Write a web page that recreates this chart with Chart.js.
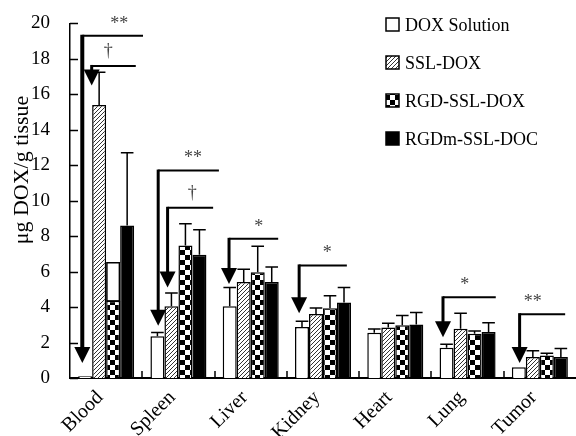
<!DOCTYPE html>
<html lang="en">
<head>
<meta charset="UTF-8">
<title>DOX tissue distribution</title>
<script src="https://cdn.jsdelivr.net/npm/chart.js@4.4.0/dist/chart.umd.min.js"></script>
<style>
  html, body { margin: 0; padding: 0; background: #fff; }
  #wrap { width: 576px; height: 436px; }
</style>
</head>
<body>
<div id="wrap"><canvas id="chart" width="576" height="436"></canvas></div>
<script>
// ---- data ----
const categories = ['Blood', 'Spleen', 'Liver', 'Kidney', 'Heart', 'Lung', 'Tumor'];
const seriesNames = ['DOX Solution', 'SSL-DOX', 'RGD-SSL-DOX', 'RGDm-SSL-DOC'];
const doxSolution    = [0.1, 2.35, 4.05, 2.87, 2.55, 1.71, 0.6];
const doxSolutionErr = [0, 0.22, 1.05, 0.33, 0.22, 0.19, 0];
const sslDox         = [15.4, 4.05, 5.42, 3.61, 2.85, 2.78, 1.19];
const sslDoxErr      = [1.85, 0.75, 0.71, 0.34, 0.24, 0.87, 0.34];
const rgdSslDox      = [4.35, 7.47, 5.96, 3.93, 2.98, 2.5, 1.27];
const rgdSslDoxErr   = [2.15, 1.23, 1.47, 0.71, 0.54, 0.15, 0.13];
const rgdmSslDoc     = [8.6, 6.95, 5.42, 4.26, 3.02, 2.59, 1.19];
const rgdmSslDocErr  = [4.1, 1.41, 0.84, 0.84, 0.68, 0.52, 0.47];
const yTicks = [0, 2, 4, 6, 8, 10, 12, 14, 16, 18, 20];

// significance brackets: mark, category, bracket level, arrow tip value
const sigMarks    = ['**', '\u2020', '**', '\u2020', '*', '*', '*', '**'];
const sigCategory = [0, 0, 1, 1, 2, 3, 5, 6];
const sigLevel    = [19.3, 17.6, 11.7, 9.6, 7.85, 6.35, 4.55, 3.6];
const sigTip      = [0.85, 16.5, 2.95, 5.1, 5.3, 3.65, 2.3, 0.85];

// the Blood RGD-SSL-DOX error is drawn as an open box in the original
const boxedErrors = [[2, 0]];

// layout of the brackets, in fractions of a category width
const sigStart = [-0.33, -0.2, -0.28, -0.15, -0.3, -0.33, -0.34, -0.28];
const sigEnd   = [0.51, 0.41, 0.56, 0.48, 0.38, 0.33, 0.39, 0.35];
const sigText  = [0.18, 0.03, 0.2, 0.19, 0.11, 0.06, -0.04, -0.1];

const FONT = '"Liberation Serif", "Times New Roman", serif';
const canvas = document.getElementById('chart');
const ctx = canvas.getContext('2d');

function makeHatch() {
    const c = document.createElement('canvas');
    c.width = 4; c.height = 4;
    const g = c.getContext('2d');
    g.fillStyle = '#fff'; g.fillRect(0, 0, 4, 4);
    g.strokeStyle = '#333'; g.lineWidth = 1;
    g.beginPath();
    g.moveTo(0, 4); g.lineTo(4, 0);
    g.moveTo(-1, 1); g.lineTo(1, -1);
    g.moveTo(3, 5); g.lineTo(5, 3);
    g.stroke();
    return ctx.createPattern(c, 'repeat');
}
function makeChecker() {
    const c = document.createElement('canvas');
    c.width = 10; c.height = 10;
    const g = c.getContext('2d');
    g.fillStyle = '#fff'; g.fillRect(0, 0, 10, 10);
    g.fillStyle = '#000';
    g.fillRect(0, 0, 5, 5); g.fillRect(5, 5, 5, 5);
    return ctx.createPattern(c, 'repeat');
}
const fills = ['#ffffff', makeHatch(), makeChecker(), '#000000'];
const seriesValues = [doxSolution, sslDox, rgdSslDox, rgdmSslDoc];
const seriesErrors = [doxSolutionErr, sslDoxErr, rgdSslDoxErr, rgdmSslDocErr];

const overlay = {
    id: 'overlay',
    afterDatasetsDraw(chart) {
        const c = chart.ctx;
        const xs = chart.scales.x, ys = chart.scales.y;
        const area = chart.chartArea;
        const catW = xs.getPixelForValue(1) - xs.getPixelForValue(0);
        c.save();

        // error bars (upper whisker only)
        seriesErrors.forEach((errs, di) => {
            const meta = chart.getDatasetMeta(di);
            meta.data.forEach((bar, i) => {
                const e = errs[i];
                if (!e) return;
                const top = ys.getPixelForValue(seriesValues[di][i] + e);
                const boxed = boxedErrors.some(b => b[0] === di && b[1] === i);
                c.strokeStyle = '#000';
                c.lineWidth = 1.5;
                if (boxed) {
                    c.fillStyle = '#fff';
                    c.fillRect(bar.x - bar.width / 2, top, bar.width, bar.y - top);
                    c.strokeRect(bar.x - bar.width / 2 + 0.75, top, bar.width - 1.5, bar.y - top);
                    return;
                }
                const half = bar.width * 0.45;
                c.beginPath();
                c.moveTo(bar.x, bar.y);
                c.lineTo(bar.x, top);
                c.moveTo(bar.x - half, top);
                c.lineTo(bar.x + half, top);
                c.stroke();
            });
        });

        // significance arrows and brackets
        sigMarks.forEach((mark, k) => {
            const cx = xs.getPixelForValue(sigCategory[k]);
            const x0 = cx + sigStart[k] * catW;
            const x1 = cx + sigEnd[k] * catW;
            const yl = ys.getPixelForValue(sigLevel[k]);
            const yt = ys.getPixelForValue(sigTip[k]);
            const head = 16;
            c.strokeStyle = '#000';
            c.fillStyle = '#000';
            c.lineWidth = 2;
            c.beginPath();
            c.moveTo(x0, yl);
            c.lineTo(x1, yl);
            c.stroke();
            c.lineWidth = k === 0 ? 4 : 3;
            c.beginPath();
            c.moveTo(x0, yl - 1);
            c.lineTo(x0, yt - head + 2);
            c.stroke();
            c.beginPath();
            c.moveTo(x0 - 8, yt - head);
            c.lineTo(x0 + 8, yt - head);
            c.lineTo(x0, yt);
            c.closePath();
            c.fill();
            c.font = '18px ' + FONT;
            c.fillStyle = '#444';
            c.textAlign = 'center';
            c.textBaseline = 'middle';
            const tx = cx + sigText[k] * catW;
            c.fillText(mark, tx, yl - (mark === '\u2020' ? 15 : 12));
        });

        // inward ticks on both axes
        c.strokeStyle = '#000';
        c.lineWidth = 1.5;
        c.beginPath();
        yTicks.forEach(v => {
            const y = Math.round(ys.getPixelForValue(v)) + 0.5;
            c.moveTo(area.left, y);
            c.lineTo(area.left + 8, y);
        });
        for (let i = 1; i < categories.length; i++) {
            const x = Math.round(xs.getPixelForValue(i) - catW / 2);
            c.moveTo(x, area.bottom);
            c.lineTo(x, area.bottom - 7);
        }
        c.stroke();

        // y axis title
        c.save();
        c.translate(22, 170);
        c.rotate(-Math.PI / 2);
        c.font = '22px ' + FONT;
        c.fillStyle = '#000';
        c.textAlign = 'center';
        c.textBaseline = 'middle';
        c.fillText('\u03bcg DOX/g tissue', 0, 0);
        c.restore();

        // legend
        c.font = '18px ' + FONT;
        c.textAlign = 'left';
        c.textBaseline = 'middle';
        seriesNames.forEach((name, i) => {
            const y = 25 + i * 38;
            const bx = 386;
            c.fillStyle = fills[i];
            c.fillRect(bx, y - 7, 13, 13);
            c.strokeStyle = '#000';
            c.lineWidth = 1.5;
            c.strokeRect(bx, y - 7, 13, 13);
            c.fillStyle = '#000';
            c.fillText(name, bx + 19, y + 1);
        });
        c.restore();
    }
};

new Chart(ctx, {
    type: 'bar',
    data: {
        labels: categories,
        datasets: seriesNames.map((name, i) => ({
            label: name,
            data: seriesValues[i],
            backgroundColor: fills[i],
            borderColor: '#000',
            borderWidth: 1.5,
            barPercentage: 1.0,
            categoryPercentage: 0.775
        }))
    },
    options: {
        responsive: false,
        animation: false,
        devicePixelRatio: 1,
        layout: { padding: { top: 20, right: 0, left: 0, bottom: 0 } },
        plugins: {
            legend: { display: false },
            tooltip: { enabled: false }
        },
        scales: {
            x: {
                grid: { display: false },
                border: { display: true, color: '#000', width: 2 },
                ticks: {
                    color: '#000',
                    font: { family: FONT, size: 20 },
                    maxRotation: 45,
                    minRotation: 45,
                    padding: 0,
                    labelOffset: -6
                },
                afterFit(scale) { scale.height = 58; }
            },
            y: {
                min: 0,
                max: 20,
                grid: { display: false },
                border: { display: true, color: '#000', width: 1.5 },
                ticks: {
                    stepSize: 2,
                    color: '#000',
                    font: { family: FONT, size: 19 },
                    padding: 12
                },
                afterFit(scale) { scale.width = 70; }
            }
        }
    },
    plugins: [overlay]
});
</script>
</body>
</html>
